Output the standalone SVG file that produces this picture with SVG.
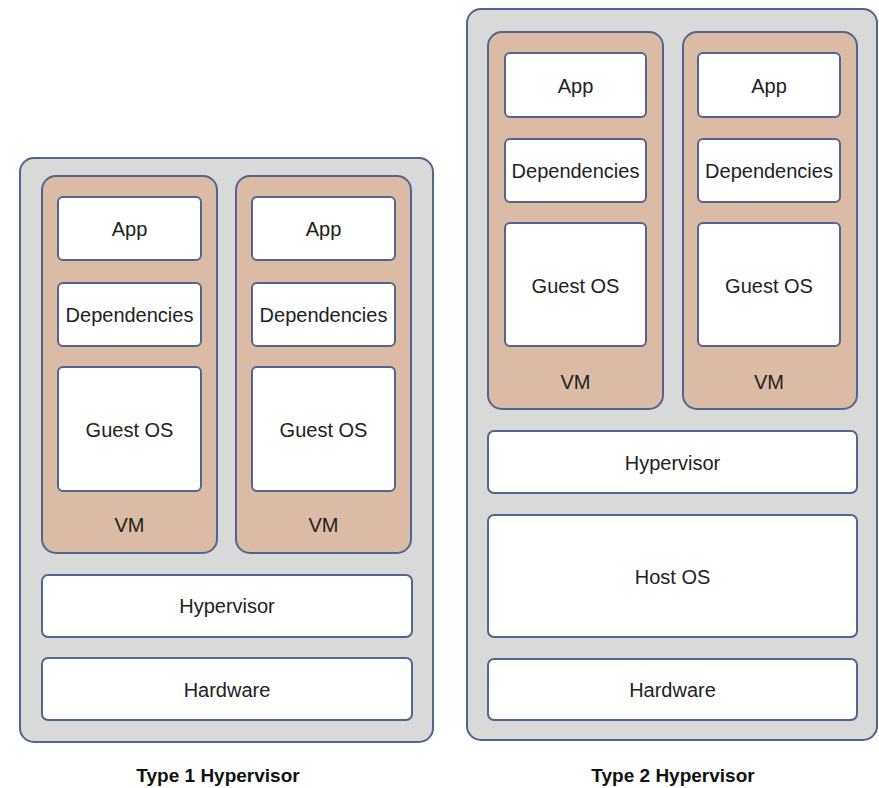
<svg xmlns="http://www.w3.org/2000/svg" width="879" height="788" viewBox="0 0 879 788">
<style>
.outer{fill:#d9d9d9;stroke:#52658f;stroke-width:2}
.vm{fill:#dcbba6;stroke:#52658f;stroke-width:2}
.box{fill:#ffffff;stroke:#52658f;stroke-width:2}
text{font-family:"Liberation Sans",Arial,sans-serif;font-size:20px;fill:#222;text-anchor:middle;dominant-baseline:central}
.cap{font-weight:bold;font-size:19px;fill:#111}
</style>
<rect width="879" height="788" fill="#ffffff"/>
<g id="type1">
  <rect class="outer" x="20" y="158" width="413" height="584" rx="14"/>
  <g id="t1-vm1">
    <rect class="vm" x="42" y="176" width="175" height="377" rx="14"/>
    <rect class="box" x="58" y="197" width="143" height="63" rx="5"/><text x="129.5" y="229">App</text>
    <rect class="box" x="58" y="283" width="143" height="63" rx="5"/><text x="129.5" y="315">Dependencies</text>
    <rect class="box" x="58" y="367" width="143" height="124" rx="5"/><text x="129.5" y="430">Guest OS</text>
    <text x="129.5" y="525">VM</text>
  </g>
  <g id="t1-vm2">
    <rect class="vm" x="236" y="176" width="175" height="377" rx="14"/>
    <rect class="box" x="252" y="197" width="143" height="63" rx="5"/><text x="323.5" y="229">App</text>
    <rect class="box" x="252" y="283" width="143" height="63" rx="5"/><text x="323.5" y="315">Dependencies</text>
    <rect class="box" x="252" y="367" width="143" height="124" rx="5"/><text x="323.5" y="430">Guest OS</text>
    <text x="323.5" y="525">VM</text>
  </g>
  <g id="t1-hypervisor">
    <rect class="box" x="42" y="575" width="370" height="62" rx="6"/><text x="227" y="606">Hypervisor</text>
  </g>
  <g id="t1-hardware">
    <rect class="box" x="42" y="658" width="370" height="62" rx="6"/><text x="227" y="690">Hardware</text>
  </g>
  <text class="cap" x="218" y="775">Type 1 Hypervisor</text>
</g>
<g id="type2">
  <rect class="outer" x="467" y="9" width="410" height="731" rx="14"/>
  <g id="t2-vm1">
    <rect class="vm" x="488" y="32" width="175" height="377" rx="14"/>
    <rect class="box" x="505" y="53" width="141" height="64" rx="5"/><text x="575.5" y="86">App</text>
    <rect class="box" x="505" y="139" width="141" height="63" rx="5"/><text x="575.5" y="171">Dependencies</text>
    <rect class="box" x="505" y="223" width="141" height="123" rx="5"/><text x="575.5" y="286">Guest OS</text>
    <text x="575.5" y="382">VM</text>
  </g>
  <g id="t2-vm2">
    <rect class="vm" x="683" y="32" width="174" height="377" rx="14"/>
    <rect class="box" x="698" y="53" width="142" height="64" rx="5"/><text x="769" y="86">App</text>
    <rect class="box" x="698" y="139" width="142" height="63" rx="5"/><text x="769" y="171">Dependencies</text>
    <rect class="box" x="698" y="223" width="142" height="123" rx="5"/><text x="769" y="286">Guest OS</text>
    <text x="769" y="382">VM</text>
  </g>
  <g id="t2-hypervisor">
    <rect class="box" x="488" y="431" width="369" height="62" rx="6"/><text x="672.5" y="463">Hypervisor</text>
  </g>
  <g id="t2-hostos">
    <rect class="box" x="488" y="515" width="369" height="122" rx="6"/><text x="672.5" y="577">Host OS</text>
  </g>
  <g id="t2-hardware">
    <rect class="box" x="488" y="659" width="369" height="61" rx="6"/><text x="672.5" y="690">Hardware</text>
  </g>
  <text class="cap" x="673" y="775">Type 2 Hypervisor</text>
</g>
<g id="connectors"></g>
</svg>
